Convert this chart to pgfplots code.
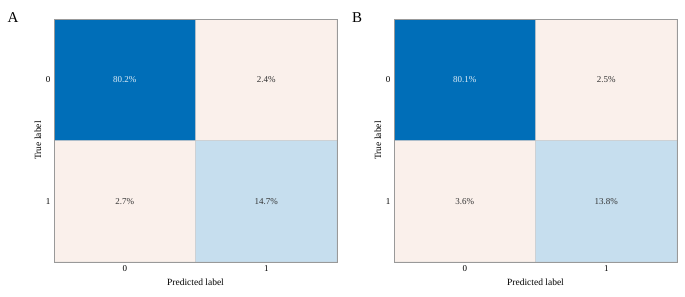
\documentclass[border=0pt]{standalone}
\usepackage{pgfplots}
\pgfplotsset{compat=1.18}
\usepackage{pgfplotstable}
\usepackage{fontspec}
\setmainfont{Liberation Serif}

\definecolor{cmpink}{RGB}{250,240,235}
\definecolor{cmlight}{RGB}{198,222,238}
\definecolor{cmdark}{RGB}{0,110,184}

\pgfplotstableread{
x y c label
0 0 2 80.2
1 0 0 2.4
0 1 0 2.7
1 1 1 14.7
}\dataA
\pgfplotstableread{
x y c label
0 0 2 80.1
1 0 0 2.5
0 1 0 3.6
1 1 1 13.8
}\dataB

\pgfplotsset{
  cmstyle/.style={
    width=283pt,height=243pt,scale only axis,
    xmin=-0.5,xmax=1.5,ymin=-0.5,ymax=1.5,y dir=reverse,
    xtick={0,1},ytick={0,1},major tick length=0pt,
    axis on top,
    axis line style={gray!80},
    xlabel={Predicted label},ylabel={True label},
    tick label style={font=\fontsize{9}{10}\selectfont},
    label style={font=\fontsize{9.5}{11}\selectfont},
    ylabel style={yshift=-2pt},
    /pgf/number format/assume math mode=true,
    colormap={cm}{color=(cmpink) color=(cmlight) color=(cmdark)},
    colormap access=direct,
  },
  cells/.style={matrix plot*, mesh/cols=2, point meta=\thisrow{c}, draw=gray!55},
  txt/.style={only marks, mark=none, point meta=explicit symbolic,
    nodes near coords={\pgfplotspointmeta\%}, nodes near coords align=center,
    every node near coord/.append style={font=\fontsize{9}{10}\selectfont, #1}},
}

\begin{document}
\begin{tikzpicture}[x=1pt,y=1pt]
\useasboundingbox (0,0) rectangle (685,297);
\node[font=\fontsize{15}{16}\selectfont] at (13,279) {A};
\node[font=\fontsize{15}{16}\selectfont] at (357,279) {B};

\begin{axis}[cmstyle, at={(54pt,35pt)}, anchor=south west]
\addplot[cells] table[x=x,y=y] {\dataA};
\addplot[txt={text=white!88!cmdark}] table[x=x,y=y,meta=label,skip coords between index={1}{4}] {\dataA};
\addplot[txt={text=black!80}] table[x=x,y=y,meta=label,skip coords between index={0}{1}] {\dataA};
\end{axis}

\begin{axis}[cmstyle, at={(394pt,35pt)}, anchor=south west]
\addplot[cells] table[x=x,y=y] {\dataB};
\addplot[txt={text=white!88!cmdark}] table[x=x,y=y,meta=label,skip coords between index={1}{4}] {\dataB};
\addplot[txt={text=black!80}] table[x=x,y=y,meta=label,skip coords between index={0}{1}] {\dataB};
\end{axis}
\end{tikzpicture}
\end{document}
